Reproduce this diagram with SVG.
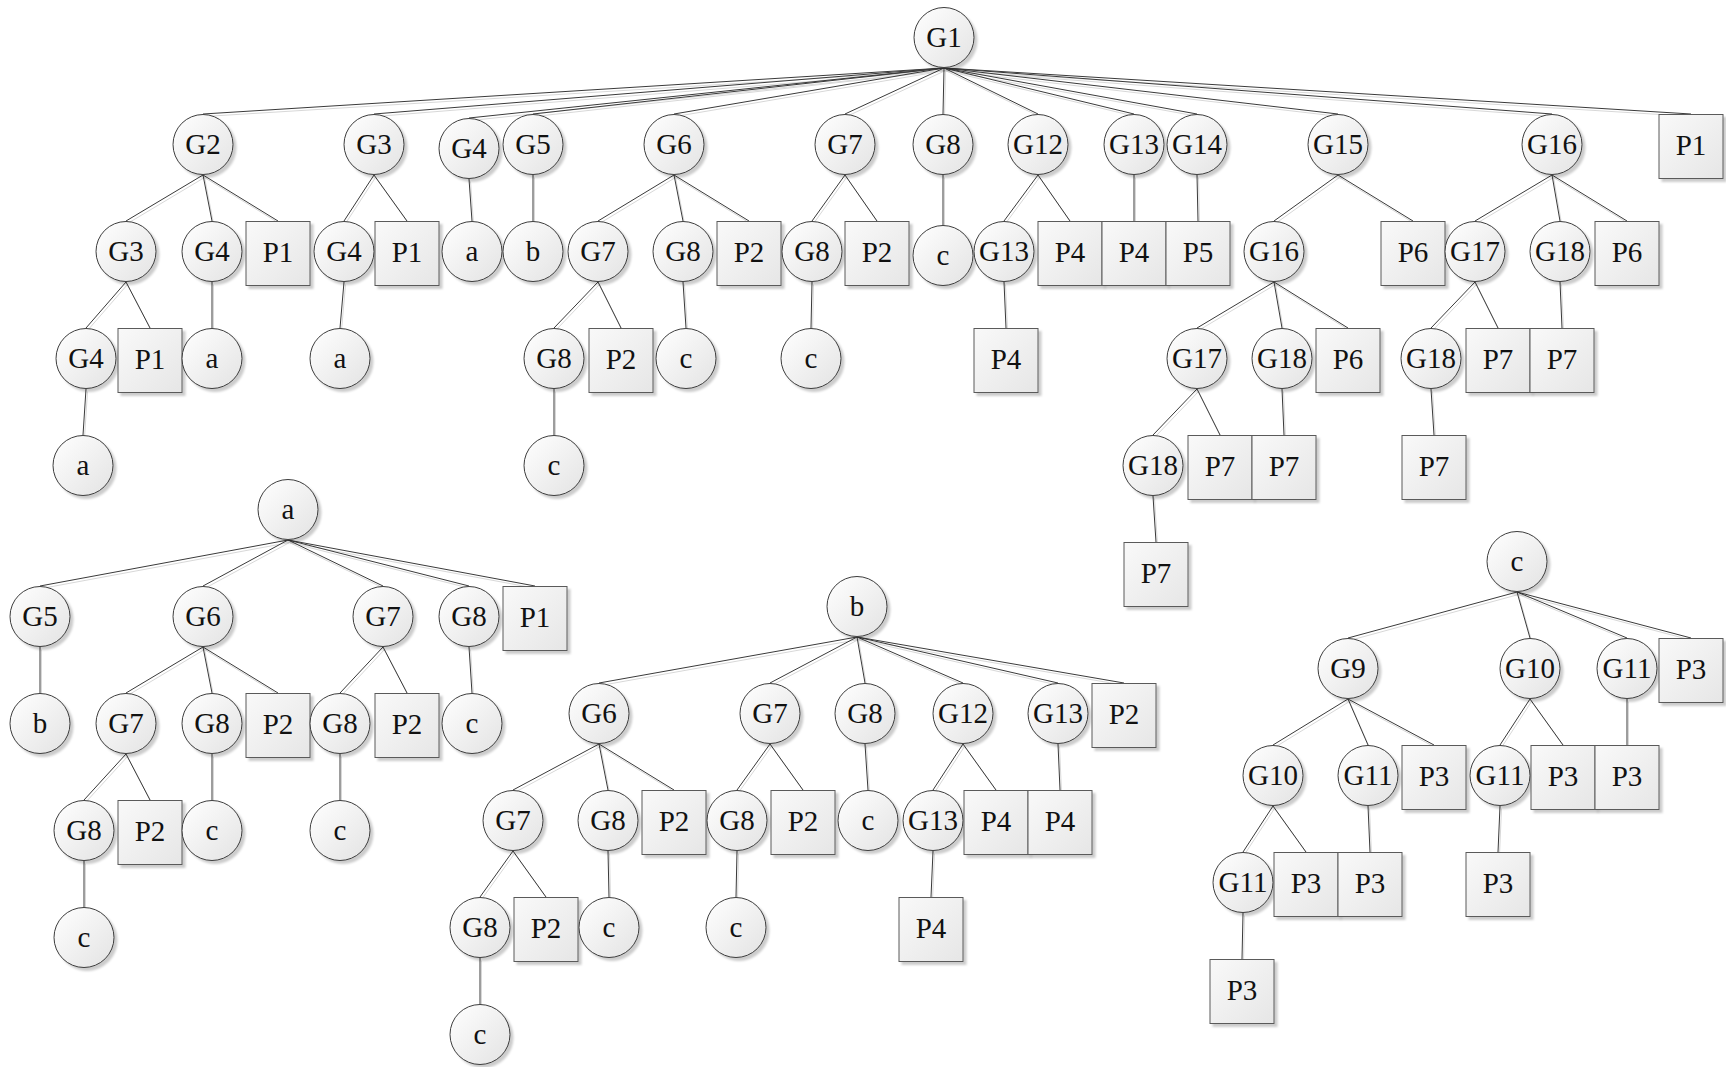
<svg xmlns="http://www.w3.org/2000/svg" xmlns:xlink="http://www.w3.org/1999/xlink" width="1726" height="1067" viewBox="0 0 1726 1067">
<defs>
<linearGradient id="gc" x1="0" y1="0" x2="1" y2="1"><stop offset="0" stop-color="#ffffff"/><stop offset="1" stop-color="#e3e3e3"/></linearGradient>
<linearGradient id="gr" x1="0" y1="0" x2="1" y2="1"><stop offset="0" stop-color="#f9f9f9"/><stop offset="1" stop-color="#e6e6e6"/></linearGradient>
<filter id="sh" x="-20%" y="-20%" width="150%" height="150%"><feDropShadow dx="3" dy="3" stdDeviation="1.2" flood-color="#000" flood-opacity="0.2"/></filter>
</defs>
<style>
.n circle{fill:url(#gc);stroke:#3c3c3c;stroke-width:1;filter:url(#sh)}
.n rect{fill:url(#gr);stroke:#5a5a5a;stroke-width:1;filter:url(#sh)}
.n text{font-family:"Liberation Serif","Times New Roman",serif;font-size:29px;fill:#111;text-anchor:middle}
</style>
<rect width="1726" height="1067" fill="#ffffff"/>
<g id="connectors" fill="none">
<use xlink:href="#edges" href="#edges" transform="translate(1.5,2.5)" stroke="#d8d8d8" stroke-width="1"/>
<g stroke="#3a3a3a" stroke-width="1">
<g id="edges">
<line x1="944" y1="68" x2="203" y2="114"/><line x1="944" y1="68" x2="374" y2="114"/><line x1="944" y1="68" x2="469" y2="118"/><line x1="944" y1="68" x2="533" y2="114"/><line x1="944" y1="68" x2="674" y2="114"/><line x1="944" y1="68" x2="845" y2="114"/><line x1="944" y1="68" x2="943" y2="114"/><line x1="944" y1="68" x2="1038" y2="114"/><line x1="944" y1="68" x2="1134" y2="114"/><line x1="944" y1="68" x2="1197" y2="114"/><line x1="944" y1="68" x2="1338" y2="114"/><line x1="944" y1="68" x2="1552" y2="114"/><line x1="944" y1="68" x2="1691" y2="114"/>
<line x1="203" y1="175" x2="126" y2="221"/><line x1="203" y1="175" x2="212" y2="221"/><line x1="203" y1="175" x2="278" y2="221"/>
<line x1="374" y1="175" x2="344" y2="221"/><line x1="374" y1="175" x2="407" y2="221"/>
<line x1="469" y1="179" x2="472" y2="221"/>
<line x1="533" y1="175" x2="533" y2="221"/>
<line x1="674" y1="175" x2="598" y2="221"/><line x1="674" y1="175" x2="683" y2="221"/><line x1="674" y1="175" x2="749" y2="221"/>
<line x1="845" y1="175" x2="812" y2="221"/><line x1="845" y1="175" x2="877" y2="221"/>
<line x1="943" y1="175" x2="943" y2="225"/>
<line x1="1038" y1="175" x2="1004" y2="221"/><line x1="1038" y1="175" x2="1070" y2="221"/>
<line x1="1134" y1="175" x2="1134" y2="221"/>
<line x1="1197" y1="175" x2="1198" y2="221"/>
<line x1="1338" y1="175" x2="1274" y2="221"/><line x1="1338" y1="175" x2="1413" y2="221"/>
<line x1="1552" y1="175" x2="1475" y2="221"/><line x1="1552" y1="175" x2="1560" y2="221"/><line x1="1552" y1="175" x2="1627" y2="221"/>
<line x1="126" y1="282" x2="86" y2="328"/><line x1="126" y1="282" x2="150" y2="328"/>
<line x1="212" y1="282" x2="212" y2="328"/>
<line x1="344" y1="282" x2="340" y2="328"/>
<line x1="598" y1="282" x2="554" y2="328"/><line x1="598" y1="282" x2="621" y2="328"/>
<line x1="683" y1="282" x2="686" y2="328"/>
<line x1="812" y1="282" x2="811" y2="328"/>
<line x1="1004" y1="282" x2="1006" y2="328"/>
<line x1="1274" y1="282" x2="1197" y2="328"/><line x1="1274" y1="282" x2="1282" y2="328"/><line x1="1274" y1="282" x2="1348" y2="328"/>
<line x1="1475" y1="282" x2="1431" y2="328"/><line x1="1475" y1="282" x2="1498" y2="328"/>
<line x1="1560" y1="282" x2="1562" y2="328"/>
<line x1="86" y1="389" x2="83" y2="435"/>
<line x1="554" y1="389" x2="554" y2="435"/>
<line x1="1197" y1="389" x2="1153" y2="435"/><line x1="1197" y1="389" x2="1220" y2="435"/>
<line x1="1282" y1="389" x2="1284" y2="435"/>
<line x1="1431" y1="389" x2="1434" y2="435"/>
<line x1="1153" y1="496" x2="1156" y2="542"/>
<line x1="288" y1="540" x2="40" y2="586"/><line x1="288" y1="540" x2="203" y2="586"/><line x1="288" y1="540" x2="383" y2="586"/><line x1="288" y1="540" x2="469" y2="586"/><line x1="288" y1="540" x2="535" y2="586"/>
<line x1="40" y1="647" x2="40" y2="693"/>
<line x1="203" y1="647" x2="126" y2="693"/><line x1="203" y1="647" x2="212" y2="693"/><line x1="203" y1="647" x2="278" y2="693"/>
<line x1="383" y1="647" x2="340" y2="693"/><line x1="383" y1="647" x2="407" y2="693"/>
<line x1="469" y1="647" x2="472" y2="693"/>
<line x1="126" y1="754" x2="84" y2="800"/><line x1="126" y1="754" x2="150" y2="800"/>
<line x1="212" y1="754" x2="212" y2="800"/>
<line x1="340" y1="754" x2="340" y2="800"/>
<line x1="84" y1="861" x2="84" y2="907"/>
<line x1="857" y1="637" x2="599" y2="683"/><line x1="857" y1="637" x2="770" y2="683"/><line x1="857" y1="637" x2="865" y2="683"/><line x1="857" y1="637" x2="963" y2="683"/><line x1="857" y1="637" x2="1058" y2="683"/><line x1="857" y1="637" x2="1124" y2="683"/>
<line x1="599" y1="744" x2="513" y2="790"/><line x1="599" y1="744" x2="608" y2="790"/><line x1="599" y1="744" x2="674" y2="790"/>
<line x1="770" y1="744" x2="737" y2="790"/><line x1="770" y1="744" x2="803" y2="790"/>
<line x1="865" y1="744" x2="868" y2="790"/>
<line x1="963" y1="744" x2="933" y2="790"/><line x1="963" y1="744" x2="996" y2="790"/>
<line x1="1058" y1="744" x2="1060" y2="790"/>
<line x1="513" y1="851" x2="480" y2="897"/><line x1="513" y1="851" x2="546" y2="897"/>
<line x1="608" y1="851" x2="609" y2="897"/>
<line x1="737" y1="851" x2="736" y2="897"/>
<line x1="933" y1="851" x2="931" y2="897"/>
<line x1="480" y1="958" x2="480" y2="1004"/>
<line x1="1517" y1="592" x2="1348" y2="638"/><line x1="1517" y1="592" x2="1530" y2="638"/><line x1="1517" y1="592" x2="1627" y2="638"/><line x1="1517" y1="592" x2="1691" y2="638"/>
<line x1="1348" y1="699" x2="1273" y2="745"/><line x1="1348" y1="699" x2="1368" y2="745"/><line x1="1348" y1="699" x2="1434" y2="745"/>
<line x1="1530" y1="699" x2="1500" y2="745"/><line x1="1530" y1="699" x2="1563" y2="745"/>
<line x1="1627" y1="699" x2="1627" y2="745"/>
<line x1="1273" y1="806" x2="1243" y2="852"/><line x1="1273" y1="806" x2="1306" y2="852"/>
<line x1="1368" y1="806" x2="1370" y2="852"/>
<line x1="1500" y1="806" x2="1498" y2="852"/>
<line x1="1243" y1="913" x2="1242" y2="959"/>
</g>
</g>
</g>
<g id="nodes">
<!-- tree G1 -->
<g id="t1-G1" class="n"><circle cx="944" cy="37.5" r="30"/><text x="944" y="46.5">G1</text></g>
<g id="t1-G2" class="n"><circle cx="203" cy="144.5" r="30"/><text x="203" y="153.5">G2</text></g>
<g id="t1-G3" class="n"><circle cx="374" cy="144.5" r="30"/><text x="374" y="153.5">G3</text></g>
<g id="t1-G4" class="n"><circle cx="469" cy="148.5" r="30"/><text x="469" y="157.5">G4</text></g>
<g id="t1-G5" class="n"><circle cx="533" cy="144.5" r="30"/><text x="533" y="153.5">G5</text></g>
<g id="t1-G6" class="n"><circle cx="674" cy="144.5" r="30"/><text x="674" y="153.5">G6</text></g>
<g id="t1-G7" class="n"><circle cx="845" cy="144.5" r="30"/><text x="845" y="153.5">G7</text></g>
<g id="t1-G8" class="n"><circle cx="943" cy="144.5" r="30"/><text x="943" y="153.5">G8</text></g>
<g id="t1-G12" class="n"><circle cx="1038" cy="144.5" r="30"/><text x="1038" y="153.5">G12</text></g>
<g id="t1-G13" class="n"><circle cx="1134" cy="144.5" r="30"/><text x="1134" y="153.5">G13</text></g>
<g id="t1-G14" class="n"><circle cx="1197" cy="144.5" r="30"/><text x="1197" y="153.5">G14</text></g>
<g id="t1-G15" class="n"><circle cx="1338" cy="144.5" r="30"/><text x="1338" y="153.5">G15</text></g>
<g id="t1-G16" class="n"><circle cx="1552" cy="144.5" r="30"/><text x="1552" y="153.5">G16</text></g>
<g id="t1-P1" class="n"><rect x="1659" y="114.5" width="64" height="64"/><text x="1691" y="155">P1</text></g>
<g id="t1-r2-G3" class="n"><circle cx="126" cy="251.5" r="30"/><text x="126" y="260.5">G3</text></g>
<g id="t1-r2-G4a" class="n"><circle cx="212" cy="251.5" r="30"/><text x="212" y="260.5">G4</text></g>
<g id="t1-r2-P1a" class="n"><rect x="246" y="221.5" width="64" height="64"/><text x="278" y="262">P1</text></g>
<g id="t1-r2-G4b" class="n"><circle cx="344" cy="251.5" r="30"/><text x="344" y="260.5">G4</text></g>
<g id="t1-r2-P1b" class="n"><rect x="375" y="221.5" width="64" height="64"/><text x="407" y="262">P1</text></g>
<g id="t1-r2-a" class="n"><circle cx="472" cy="251.5" r="30"/><text x="472" y="260.5">a</text></g>
<g id="t1-r2-b" class="n"><circle cx="533" cy="251.5" r="30"/><text x="533" y="260.5">b</text></g>
<g id="t1-r2-G7" class="n"><circle cx="598" cy="251.5" r="30"/><text x="598" y="260.5">G7</text></g>
<g id="t1-r2-G8a" class="n"><circle cx="683" cy="251.5" r="30"/><text x="683" y="260.5">G8</text></g>
<g id="t1-r2-P2a" class="n"><rect x="717" y="221.5" width="64" height="64"/><text x="749" y="262">P2</text></g>
<g id="t1-r2-G8b" class="n"><circle cx="812" cy="251.5" r="30"/><text x="812" y="260.5">G8</text></g>
<g id="t1-r2-P2b" class="n"><rect x="845" y="221.5" width="64" height="64"/><text x="877" y="262">P2</text></g>
<g id="t1-r2-c" class="n"><circle cx="943" cy="255.5" r="30"/><text x="943" y="264.5">c</text></g>
<g id="t1-r2-G13" class="n"><circle cx="1004" cy="251.5" r="30"/><text x="1004" y="260.5">G13</text></g>
<g id="t1-r2-P4a" class="n"><rect x="1038" y="221.5" width="64" height="64"/><text x="1070" y="262">P4</text></g>
<g id="t1-r2-P4b" class="n"><rect x="1102" y="221.5" width="64" height="64"/><text x="1134" y="262">P4</text></g>
<g id="t1-r2-P5" class="n"><rect x="1166" y="221.5" width="64" height="64"/><text x="1198" y="262">P5</text></g>
<g id="t1-r2-G16" class="n"><circle cx="1274" cy="251.5" r="30"/><text x="1274" y="260.5">G16</text></g>
<g id="t1-r2-P6a" class="n"><rect x="1381" y="221.5" width="64" height="64"/><text x="1413" y="262">P6</text></g>
<g id="t1-r2-G17" class="n"><circle cx="1475" cy="251.5" r="30"/><text x="1475" y="260.5">G17</text></g>
<g id="t1-r2-G18" class="n"><circle cx="1560" cy="251.5" r="30"/><text x="1560" y="260.5">G18</text></g>
<g id="t1-r2-P6b" class="n"><rect x="1595" y="221.5" width="64" height="64"/><text x="1627" y="262">P6</text></g>
<g id="t1-r3-G4" class="n"><circle cx="86" cy="358.5" r="30"/><text x="86" y="367.5">G4</text></g>
<g id="t1-r3-P1" class="n"><rect x="118" y="328.5" width="64" height="64"/><text x="150" y="369">P1</text></g>
<g id="t1-r3-a1" class="n"><circle cx="212" cy="358.5" r="30"/><text x="212" y="367.5">a</text></g>
<g id="t1-r3-a2" class="n"><circle cx="340" cy="358.5" r="30"/><text x="340" y="367.5">a</text></g>
<g id="t1-r3-G8" class="n"><circle cx="554" cy="358.5" r="30"/><text x="554" y="367.5">G8</text></g>
<g id="t1-r3-P2" class="n"><rect x="589" y="328.5" width="64" height="64"/><text x="621" y="369">P2</text></g>
<g id="t1-r3-c1" class="n"><circle cx="686" cy="358.5" r="30"/><text x="686" y="367.5">c</text></g>
<g id="t1-r3-c2" class="n"><circle cx="811" cy="358.5" r="30"/><text x="811" y="367.5">c</text></g>
<g id="t1-r3-P4" class="n"><rect x="974" y="328.5" width="64" height="64"/><text x="1006" y="369">P4</text></g>
<g id="t1-r3-G17" class="n"><circle cx="1197" cy="358.5" r="30"/><text x="1197" y="367.5">G17</text></g>
<g id="t1-r3-G18a" class="n"><circle cx="1282" cy="358.5" r="30"/><text x="1282" y="367.5">G18</text></g>
<g id="t1-r3-P6" class="n"><rect x="1316" y="328.5" width="64" height="64"/><text x="1348" y="369">P6</text></g>
<g id="t1-r3-G18b" class="n"><circle cx="1431" cy="358.5" r="30"/><text x="1431" y="367.5">G18</text></g>
<g id="t1-r3-P7a" class="n"><rect x="1466" y="328.5" width="64" height="64"/><text x="1498" y="369">P7</text></g>
<g id="t1-r3-P7b" class="n"><rect x="1530" y="328.5" width="64" height="64"/><text x="1562" y="369">P7</text></g>
<g id="t1-r4-a" class="n"><circle cx="83" cy="465.5" r="30"/><text x="83" y="474.5">a</text></g>
<g id="t1-r4-c" class="n"><circle cx="554" cy="465.5" r="30"/><text x="554" y="474.5">c</text></g>
<g id="t1-r4-G18" class="n"><circle cx="1153" cy="465.5" r="30"/><text x="1153" y="474.5">G18</text></g>
<g id="t1-r4-P7a" class="n"><rect x="1188" y="435.5" width="64" height="64"/><text x="1220" y="476">P7</text></g>
<g id="t1-r4-P7b" class="n"><rect x="1252" y="435.5" width="64" height="64"/><text x="1284" y="476">P7</text></g>
<g id="t1-r4-P7c" class="n"><rect x="1402" y="435.5" width="64" height="64"/><text x="1434" y="476">P7</text></g>
<g id="t1-r5-P7" class="n"><rect x="1124" y="542.5" width="64" height="64"/><text x="1156" y="583">P7</text></g>
<!-- tree a -->
<g id="ta-a" class="n"><circle cx="288" cy="509.5" r="30"/><text x="288" y="518.5">a</text></g>
<g id="ta-G5" class="n"><circle cx="40" cy="616.5" r="30"/><text x="40" y="625.5">G5</text></g>
<g id="ta-G6" class="n"><circle cx="203" cy="616.5" r="30"/><text x="203" y="625.5">G6</text></g>
<g id="ta-G7" class="n"><circle cx="383" cy="616.5" r="30"/><text x="383" y="625.5">G7</text></g>
<g id="ta-G8" class="n"><circle cx="469" cy="616.5" r="30"/><text x="469" y="625.5">G8</text></g>
<g id="ta-P1" class="n"><rect x="503" y="586.5" width="64" height="64"/><text x="535" y="627">P1</text></g>
<g id="ta-r2-b" class="n"><circle cx="40" cy="723.5" r="30"/><text x="40" y="732.5">b</text></g>
<g id="ta-r2-G7" class="n"><circle cx="126" cy="723.5" r="30"/><text x="126" y="732.5">G7</text></g>
<g id="ta-r2-G8a" class="n"><circle cx="212" cy="723.5" r="30"/><text x="212" y="732.5">G8</text></g>
<g id="ta-r2-P2a" class="n"><rect x="246" y="693.5" width="64" height="64"/><text x="278" y="734">P2</text></g>
<g id="ta-r2-G8b" class="n"><circle cx="340" cy="723.5" r="30"/><text x="340" y="732.5">G8</text></g>
<g id="ta-r2-P2b" class="n"><rect x="375" y="693.5" width="64" height="64"/><text x="407" y="734">P2</text></g>
<g id="ta-r2-c" class="n"><circle cx="472" cy="723.5" r="30"/><text x="472" y="732.5">c</text></g>
<g id="ta-r3-G8" class="n"><circle cx="84" cy="830.5" r="30"/><text x="84" y="839.5">G8</text></g>
<g id="ta-r3-P2" class="n"><rect x="118" y="800.5" width="64" height="64"/><text x="150" y="841">P2</text></g>
<g id="ta-r3-c1" class="n"><circle cx="212" cy="830.5" r="30"/><text x="212" y="839.5">c</text></g>
<g id="ta-r3-c2" class="n"><circle cx="340" cy="830.5" r="30"/><text x="340" y="839.5">c</text></g>
<g id="ta-r4-c" class="n"><circle cx="84" cy="937.5" r="30"/><text x="84" y="946.5">c</text></g>
<!-- tree b -->
<g id="tb-b" class="n"><circle cx="857" cy="606.5" r="30"/><text x="857" y="615.5">b</text></g>
<g id="tb-G6" class="n"><circle cx="599" cy="713.5" r="30"/><text x="599" y="722.5">G6</text></g>
<g id="tb-G7" class="n"><circle cx="770" cy="713.5" r="30"/><text x="770" y="722.5">G7</text></g>
<g id="tb-G8" class="n"><circle cx="865" cy="713.5" r="30"/><text x="865" y="722.5">G8</text></g>
<g id="tb-G12" class="n"><circle cx="963" cy="713.5" r="30"/><text x="963" y="722.5">G12</text></g>
<g id="tb-G13" class="n"><circle cx="1058" cy="713.5" r="30"/><text x="1058" y="722.5">G13</text></g>
<g id="tb-P2" class="n"><rect x="1092" y="683.5" width="64" height="64"/><text x="1124" y="724">P2</text></g>
<g id="tb-r2-G7" class="n"><circle cx="513" cy="820.5" r="30"/><text x="513" y="829.5">G7</text></g>
<g id="tb-r2-G8a" class="n"><circle cx="608" cy="820.5" r="30"/><text x="608" y="829.5">G8</text></g>
<g id="tb-r2-P2a" class="n"><rect x="642" y="790.5" width="64" height="64"/><text x="674" y="831">P2</text></g>
<g id="tb-r2-G8b" class="n"><circle cx="737" cy="820.5" r="30"/><text x="737" y="829.5">G8</text></g>
<g id="tb-r2-P2b" class="n"><rect x="771" y="790.5" width="64" height="64"/><text x="803" y="831">P2</text></g>
<g id="tb-r2-c" class="n"><circle cx="868" cy="820.5" r="30"/><text x="868" y="829.5">c</text></g>
<g id="tb-r2-G13" class="n"><circle cx="933" cy="820.5" r="30"/><text x="933" y="829.5">G13</text></g>
<g id="tb-r2-P4a" class="n"><rect x="964" y="790.5" width="64" height="64"/><text x="996" y="831">P4</text></g>
<g id="tb-r2-P4b" class="n"><rect x="1028" y="790.5" width="64" height="64"/><text x="1060" y="831">P4</text></g>
<g id="tb-r3-G8" class="n"><circle cx="480" cy="927.5" r="30"/><text x="480" y="936.5">G8</text></g>
<g id="tb-r3-P2" class="n"><rect x="514" y="897.5" width="64" height="64"/><text x="546" y="938">P2</text></g>
<g id="tb-r3-c1" class="n"><circle cx="609" cy="927.5" r="30"/><text x="609" y="936.5">c</text></g>
<g id="tb-r3-c2" class="n"><circle cx="736" cy="927.5" r="30"/><text x="736" y="936.5">c</text></g>
<g id="tb-r3-P4" class="n"><rect x="899" y="897.5" width="64" height="64"/><text x="931" y="938">P4</text></g>
<g id="tb-r4-c" class="n"><circle cx="480" cy="1034.5" r="30"/><text x="480" y="1043.5">c</text></g>
<!-- tree c -->
<g id="tc-c" class="n"><circle cx="1517" cy="561.5" r="30"/><text x="1517" y="570.5">c</text></g>
<g id="tc-G9" class="n"><circle cx="1348" cy="668.5" r="30"/><text x="1348" y="677.5">G9</text></g>
<g id="tc-G10" class="n"><circle cx="1530" cy="668.5" r="30"/><text x="1530" y="677.5">G10</text></g>
<g id="tc-G11" class="n"><circle cx="1627" cy="668.5" r="30"/><text x="1627" y="677.5">G11</text></g>
<g id="tc-P3" class="n"><rect x="1659" y="638.5" width="64" height="64"/><text x="1691" y="679">P3</text></g>
<g id="tc-r2-G10" class="n"><circle cx="1273" cy="775.5" r="30"/><text x="1273" y="784.5">G10</text></g>
<g id="tc-r2-G11a" class="n"><circle cx="1368" cy="775.5" r="30"/><text x="1368" y="784.5">G11</text></g>
<g id="tc-r2-P3a" class="n"><rect x="1402" y="745.5" width="64" height="64"/><text x="1434" y="786">P3</text></g>
<g id="tc-r2-G11b" class="n"><circle cx="1500" cy="775.5" r="30"/><text x="1500" y="784.5">G11</text></g>
<g id="tc-r2-P3b" class="n"><rect x="1531" y="745.5" width="64" height="64"/><text x="1563" y="786">P3</text></g>
<g id="tc-r2-P3c" class="n"><rect x="1595" y="745.5" width="64" height="64"/><text x="1627" y="786">P3</text></g>
<g id="tc-r3-G11" class="n"><circle cx="1243" cy="882.5" r="30"/><text x="1243" y="891.5">G11</text></g>
<g id="tc-r3-P3a" class="n"><rect x="1274" y="852.5" width="64" height="64"/><text x="1306" y="893">P3</text></g>
<g id="tc-r3-P3b" class="n"><rect x="1338" y="852.5" width="64" height="64"/><text x="1370" y="893">P3</text></g>
<g id="tc-r3-P3c" class="n"><rect x="1466" y="852.5" width="64" height="64"/><text x="1498" y="893">P3</text></g>
<g id="tc-r4-P3" class="n"><rect x="1210" y="959.5" width="64" height="64"/><text x="1242" y="1000">P3</text></g>
</g>
</svg>
